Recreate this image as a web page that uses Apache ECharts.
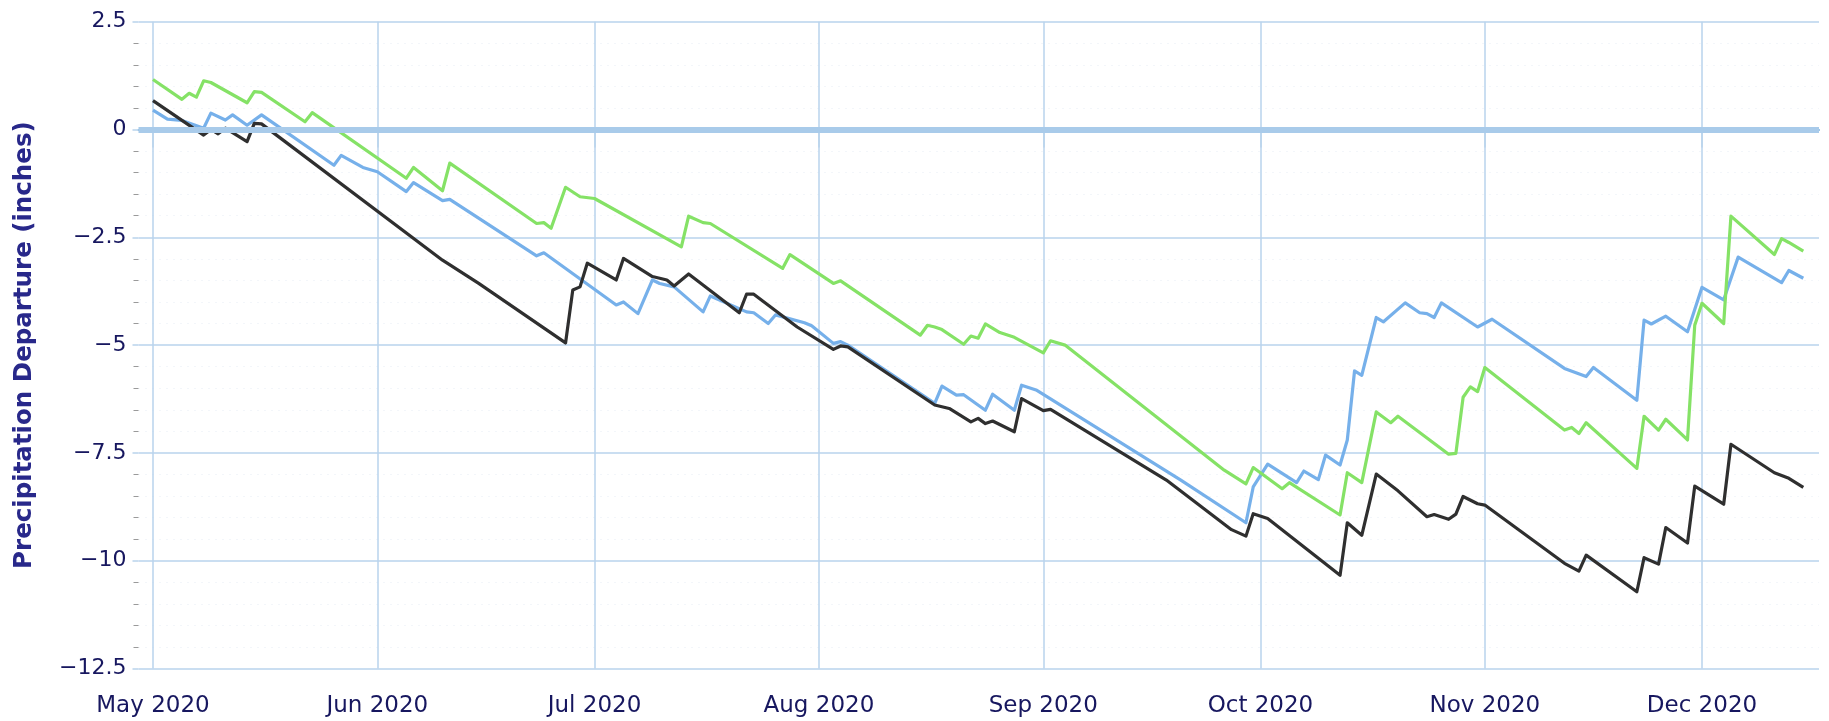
<!DOCTYPE html>
<html>
<head>
<meta charset="utf-8">
<script src="https://cdn.jsdelivr.net/npm/echarts@6/dist/echarts.min.js"></script>
<style>
html,body{margin:0;padding:0;background:#fff;}
#chart{width:1829px;height:721px;}
</style>
</head>
<body>
<div id="chart"></div>
<script>
// ---- data ----
const monthTicks = ['2020-05-01','2020-06-01','2020-07-01','2020-08-01','2020-09-01','2020-10-01','2020-11-01','2020-12-01'];
const yTicks = [-12.5, -10, -7.5, -5, -2.5, 0, 2.5];

const blueDates = ['2020-05-01','2020-05-03','2020-05-05','2020-05-08','2020-05-09','2020-05-11','2020-05-12','2020-05-14','2020-05-16','2020-05-26','2020-05-27','2020-05-30','2020-06-01','2020-06-05','2020-06-06','2020-06-10','2020-06-11','2020-06-23','2020-06-24','2020-07-04','2020-07-05','2020-07-07','2020-07-09','2020-07-10','2020-07-12','2020-07-16','2020-07-17','2020-07-22','2020-07-23','2020-07-25','2020-07-26','2020-07-30','2020-07-31','2020-08-03','2020-08-04','2020-08-05','2020-08-17','2020-08-18','2020-08-20','2020-08-21','2020-08-24','2020-08-25','2020-08-28','2020-08-29','2020-08-31','2020-09-20','2020-09-29','2020-09-30','2020-10-02','2020-10-06','2020-10-07','2020-10-09','2020-10-10','2020-10-12','2020-10-13','2020-10-14','2020-10-15','2020-10-17','2020-10-18','2020-10-21','2020-10-23','2020-10-24','2020-10-25','2020-10-26','2020-10-31','2020-11-02','2020-11-12','2020-11-15','2020-11-16','2020-11-22','2020-11-23','2020-11-24','2020-11-26','2020-11-29','2020-12-01','2020-12-04','2020-12-06','2020-12-12','2020-12-13','2020-12-15'];
const blueValues = [0.45,0.24,0.21,0.03,0.38,0.22,0.34,0.10,0.34,-0.83,-0.60,-0.88,-0.98,-1.44,-1.23,-1.65,-1.62,-2.93,-2.86,-4.07,-4.00,-4.27,-3.49,-3.57,-3.65,-4.23,-3.86,-4.23,-4.25,-4.50,-4.30,-4.48,-4.55,-4.96,-4.92,-5.00,-6.35,-5.95,-6.16,-6.15,-6.51,-6.14,-6.51,-5.93,-6.04,-8.13,-9.12,-8.29,-7.76,-8.19,-7.92,-8.12,-7.55,-7.78,-7.20,-5.60,-5.70,-4.36,-4.46,-4.02,-4.25,-4.27,-4.36,-4.02,-4.58,-4.40,-5.54,-5.73,-5.52,-6.28,-4.42,-4.51,-4.33,-4.69,-3.66,-3.95,-2.96,-3.55,-3.27,-3.45];

const blackDates = ['2020-05-01','2020-05-08','2020-05-09','2020-05-10','2020-05-11','2020-05-14','2020-05-15','2020-05-16','2020-06-10','2020-06-15','2020-06-27','2020-06-28','2020-06-29','2020-06-30','2020-07-04','2020-07-05','2020-07-09','2020-07-11','2020-07-12','2020-07-14','2020-07-21','2020-07-22','2020-07-23','2020-07-29','2020-08-03','2020-08-04','2020-08-05','2020-08-17','2020-08-19','2020-08-22','2020-08-23','2020-08-24','2020-08-25','2020-08-28','2020-08-29','2020-09-01','2020-09-02','2020-09-18','2020-09-27','2020-09-29','2020-09-30','2020-10-02','2020-10-12','2020-10-13','2020-10-15','2020-10-17','2020-10-20','2020-10-24','2020-10-25','2020-10-27','2020-10-28','2020-10-29','2020-10-31','2020-11-01','2020-11-12','2020-11-14','2020-11-15','2020-11-22','2020-11-23','2020-11-25','2020-11-26','2020-11-29','2020-11-30','2020-12-04','2020-12-05','2020-12-11','2020-12-13','2020-12-15'];
const blackValues = [0.67,-0.13,0.00,-0.10,0.03,-0.28,0.14,0.13,-3.03,-3.57,-4.95,-3.72,-3.65,-3.10,-3.49,-2.99,-3.41,-3.49,-3.63,-3.35,-4.25,-3.82,-3.82,-4.58,-5.10,-5.02,-5.04,-6.39,-6.47,-6.78,-6.70,-6.82,-6.76,-7.01,-6.24,-6.52,-6.49,-8.13,-9.28,-9.43,-8.91,-9.02,-10.34,-9.12,-9.41,-7.99,-8.38,-8.98,-8.93,-9.04,-8.92,-8.51,-8.68,-8.71,-10.06,-10.24,-9.87,-10.72,-9.93,-10.08,-9.23,-9.59,-8.27,-8.69,-7.30,-7.96,-8.09,-8.30];

const greenDates = ['2020-05-01','2020-05-05','2020-05-06','2020-05-07','2020-05-08','2020-05-09','2020-05-14','2020-05-15','2020-05-16','2020-05-22','2020-05-23','2020-06-05','2020-06-06','2020-06-10','2020-06-11','2020-06-23','2020-06-24','2020-06-25','2020-06-27','2020-06-29','2020-07-01','2020-07-13','2020-07-14','2020-07-16','2020-07-17','2020-07-27','2020-07-28','2020-08-03','2020-08-04','2020-08-15','2020-08-16','2020-08-17','2020-08-18','2020-08-21','2020-08-22','2020-08-23','2020-08-24','2020-08-26','2020-08-28','2020-09-01','2020-09-02','2020-09-04','2020-09-26','2020-09-29','2020-09-30','2020-10-04','2020-10-05','2020-10-12','2020-10-13','2020-10-15','2020-10-17','2020-10-19','2020-10-20','2020-10-27','2020-10-28','2020-10-29','2020-10-30','2020-10-31','2020-11-01','2020-11-12','2020-11-13','2020-11-14','2020-11-15','2020-11-22','2020-11-23','2020-11-25','2020-11-26','2020-11-29','2020-11-30','2020-12-01','2020-12-04','2020-12-05','2020-12-11','2020-12-12','2020-12-13','2020-12-15'];
const greenValues = [1.16,0.70,0.84,0.75,1.13,1.09,0.62,0.88,0.86,0.18,0.39,-1.13,-0.88,-1.42,-0.78,-2.18,-2.16,-2.29,-1.34,-1.56,-1.60,-2.72,-2.01,-2.16,-2.18,-3.22,-2.90,-3.57,-3.51,-4.77,-4.54,-4.58,-4.64,-4.98,-4.79,-4.84,-4.51,-4.71,-4.82,-5.18,-4.90,-5.00,-7.90,-8.22,-7.84,-8.33,-8.19,-8.94,-7.96,-8.19,-6.55,-6.80,-6.65,-7.53,-7.51,-6.21,-5.97,-6.08,-5.52,-6.97,-6.91,-7.05,-6.80,-7.86,-6.65,-6.97,-6.72,-7.20,-4.54,-4.03,-4.50,-2.01,-2.90,-2.53,-2.62,-2.82];

const monthNames = ['Jan','Feb','Mar','Apr','May','Jun','Jul','Aug','Sep','Oct','Nov','Dec'];

function toTime(s){ const p = s.split('-'); return new Date(+p[0], +p[1]-1, +p[2]).getTime(); }
function pairs(d, v){ return d.map((x,i)=>[toTime(x), v[i]]); }
const tickTimes = monthTicks.map(toTime);

const chart = echarts.init(document.getElementById('chart'), null, {renderer:'canvas'});
const font = 'DejaVu Sans';
const gridColor = '#b9d3ec';
const labelColor = '#17175f';

const lineSeries = (name, d, v, color) => ({
  name, type:'line', data: pairs(d, v), showSymbol:false, symbol:'none',
  lineStyle:{color, width:3.2, join:'round'}, itemStyle:{color}, z:3, animation:false
});

chart.setOption({
  backgroundColor:'#ffffff',
  animation:false,
  grid:{left:138.5, right:10, top:21.7, bottom:52.5, containLabel:false},
  xAxis:{
    type:'value',
    min: new Date(2020,3,29).getTime(),
    max: new Date(2020,11,17,4).getTime(),
    axisLine:{show:true, lineStyle:{color:'#7ab4e3', width:2}},
    axisTick:{show:true, customValues: tickTimes, length:18, lineStyle:{color:gridColor, width:1.5}},
    axisLabel:{customValues: tickTimes, margin:26, fontSize:23, fontFamily:font, color:labelColor,
      formatter: v => { const d = new Date(v); return monthNames[d.getMonth()] + ' ' + d.getFullYear(); }},
    splitLine:{show:true, lineStyle:{color:gridColor, width:1.5}}
  },
  yAxis:{
    type:'value', min:yTicks[0], max:yTicks[yTicks.length-1], interval:2.5,
    name:'Precipitation Departure (inches)', nameLocation:'middle', nameGap:101,
    nameTextStyle:{fontSize:24.5, fontWeight:'bold', fontFamily:font, color:'#28288a'},
    axisLine:{show:false},
    axisTick:{show:true, length:6, lineStyle:{color:gridColor, width:1.5}},
    minorTick:{show:true, splitNumber:5, length:5, lineStyle:{color:'#9a9a9a', width:1}},
    axisLabel:{margin:12, fontSize:22, fontFamily:font, color:labelColor,
      formatter: v => v < 0 ? '\u2212' + Math.abs(v) : String(v)},
    splitLine:{show:true, lineStyle:{color:gridColor, width:1.5}},
    minorSplitLine:{show:true, lineStyle:{color:'#e6edf5', width:1, type:[1,6]}}
  },
  series:[
    {type:'line', data:[], z:1, silent:true,
     markLine:{silent:true, symbol:'none', label:{show:false}, animation:false,
       lineStyle:{color:'#a9cbea', width:6, type:'solid'}, data:[{yAxis:0}]}},
    lineSeries('Blue', blueDates, blueValues, '#76b0ea'),
    lineSeries('Black', blackDates, blackValues, '#2f2f2f'),
    lineSeries('Green', greenDates, greenValues, '#85e266')
  ]
});
</script>
</body>
</html>
